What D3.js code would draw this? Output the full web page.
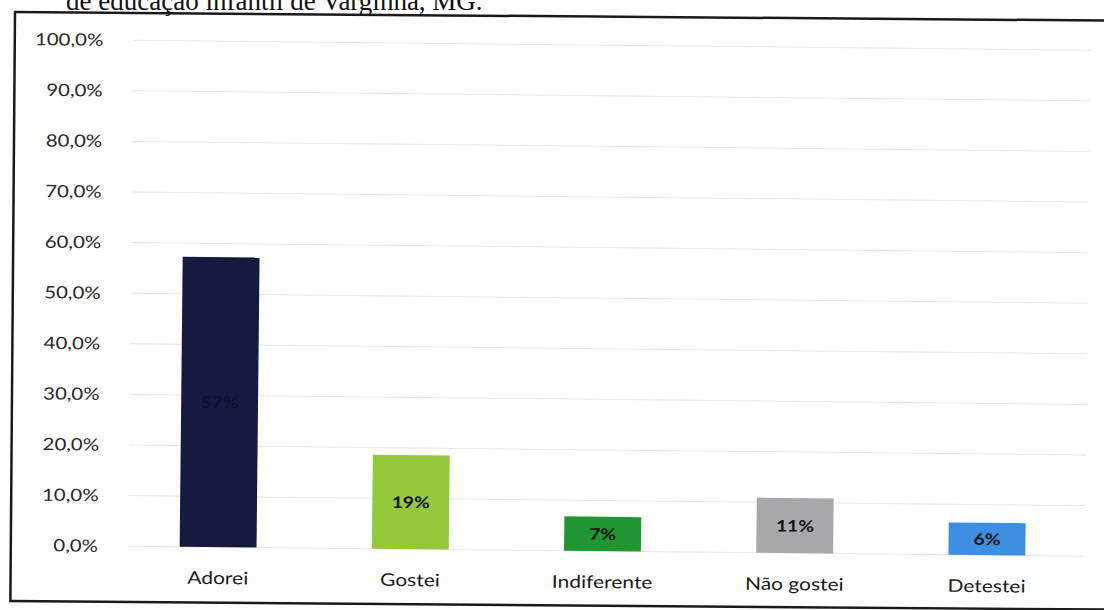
<!DOCTYPE html>
<html>
<head>
<meta charset="utf-8">
<script src="https://cdn.jsdelivr.net/npm/d3@7/dist/d3.min.js"></script>
<style>
  body { margin: 0; background: #fff; }
  svg { display: block; }
</style>
</head>
<body>
<svg id="chart" width="1104" height="610"></svg>
<script>
var categories = ["Adorei", "Gostei", "Indiferente", "Não gostei", "Detestei"];
var values = [57.3, 18.6, 6.8, 10.9, 6.4];
var barColors = ["#161a40", "#94c93b", "#1f9631", "#a8a8aa", "#3d8fe2"];
var yTicks = [0, 10, 20, 30, 40, 50, 60, 70, 80, 90, 100];
var title = "de educação infantil de Varginha, MG.";

var svg = d3.select("#chart");
var stretch = 1.2;  // the scan is a bit wider than it is tall

// caption of the figure, cut off at the top of the page
svg.append("text")
  .attr("x", 66)
  .attr("y", 10)
  .attr("font-family", "Liberation Serif, serif")
  .attr("font-size", 27)
  .attr("fill", "#111")
  .text(title);

// frame round the chart
svg.append("rect")
  .attr("x", 15)
  .attr("y", 12)
  .attr("width", 1110)
  .attr("height", 589)
  .attr("fill", "none")
  .attr("stroke", "#1a1a1a")
  .attr("stroke-width", 2.5)
  .attr("transform", "rotate(0.45 15 12)");

var g = svg.append("g")
  .attr("transform", "rotate(0.6 110 546)");

var x = d3.scaleBand()
  .domain(categories)
  .range([122, 1083])
  .paddingInner(0.6)
  .paddingOuter(0.3);

var y = d3.scaleLinear()
  .domain([0, 100])
  .range([546, 40]);

// gridlines
g.append("g")
  .selectAll("line")
  .data(yTicks)
  .enter().append("line")
  .attr("x1", 128)
  .attr("x2", 1085)
  .attr("y1", function (d) { return y(d); })
  .attr("y2", function (d) { return y(d); })
  .attr("stroke", "#e6e6e6")
  .attr("stroke-width", 1);

// y axis labels
var yAxis = d3.axisLeft(y)
  .tickValues(yTicks)
  .tickSize(0)
  .tickPadding(0)
  .tickFormat(function (d) { return d3.format(".1f")(d).replace(".", ",") + "%"; });

var yg = g.append("g")
  .attr("transform", "translate(98,0)")
  .call(yAxis);
yg.select(".domain").remove();
yg.selectAll("text")
  .attr("font-family", "Lato, sans-serif")
  .attr("font-size", 17)
  .attr("fill", "#262626")
  .attr("x", 0)
  .attr("transform", "scale(" + stretch + ",1)");

// bars
g.append("g")
  .selectAll("rect")
  .data(values)
  .enter().append("rect")
  .attr("x", function (d, i) { return x(categories[i]); })
  .attr("width", x.bandwidth())
  .attr("y", function (d) { return y(d); })
  .attr("height", function (d) { return y(0) - y(d); })
  .attr("fill", function (d, i) { return barColors[i]; });

// value labels
g.append("g")
  .selectAll("text")
  .data(values)
  .enter().append("text")
  .attr("transform", function (d, i) {
    var cx = x(categories[i]) + x.bandwidth() / 2;
    var cy = (y(d) + y(0)) / 2 + 6;
    return "translate(" + cx + "," + cy + ") scale(" + stretch + ",1)";
  })
  .attr("text-anchor", "middle")
  .attr("font-family", "Lato, sans-serif")
  .attr("font-weight", "bold")
  .attr("font-size", 16)
  .attr("fill", function (d, i) { return i === 0 ? "#0d1030" : "#111"; })
  .text(function (d) { return Math.round(d) + "%"; });

// category labels
g.append("g")
  .selectAll("text")
  .data(categories)
  .enter().append("text")
  .attr("transform", function (d) {
    return "translate(" + (x(d) + x.bandwidth() / 2) + ",583) scale(" + stretch + ",1)";
  })
  .attr("text-anchor", "middle")
  .attr("font-family", "Lato, sans-serif")
  .attr("font-size", 17.5)
  .attr("fill", "#1a1a1a")
  .text(function (d) { return d; });
</script>
</body>
</html>
